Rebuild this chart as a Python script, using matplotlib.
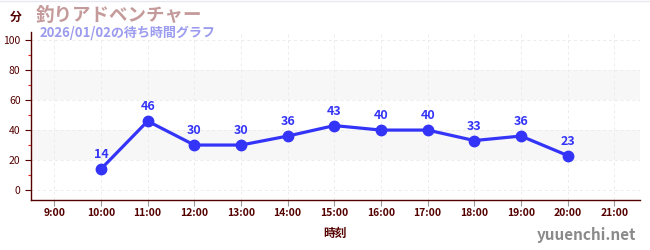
import matplotlib
matplotlib.use("Agg")
import matplotlib.pyplot as plt

plt.rcParams['font.family'] = ['Noto Sans CJK JP', 'DejaVu Sans']

hours = [10, 11, 12, 13, 14, 15, 16, 17, 18, 19, 20]
waits = [14, 46, 30, 30, 36, 43, 40, 40, 33, 36, 23]
xtick_hours = list(range(9, 22))
xtick_labels = [f"{h}:00" for h in xtick_hours]
ytick_vals = [0, 20, 40, 60, 80, 100]
title = "釣りアドベンチャー"
subtitle = "2026/01/02の待ち時間グラフ"
ylabel = "分"
xlabel = "時刻"
watermark = "yuuenchi.net"

axis_color = "#550000"
line_color = "#3434f8"

fig = plt.figure(figsize=(6.5, 2.5), dpi=100)
ax = fig.add_axes([31/650, 1-200/250, (640-31)/650, (200-32)/250])
ax.set_xlim(8.5, 21.55)
ax.set_ylim(-6.7, 105.5)

for lo, hi in [(20, 40), (60, 80)]:
    ax.axhspan(lo, hi, color="#f7f7f7", zorder=0, lw=0)

for h in xtick_hours:
    ax.axvline(h, color="#ececec", ls=(0, (3, 3)), lw=0.7, zorder=1)
for v in ytick_vals:
    ax.axhline(v, color="#ececec", ls=(0, (3, 3)), lw=0.7, zorder=1)

ax.plot(hours, waits, color=line_color, lw=2.3, marker="o", ms=7.5, zorder=3)
for h, w in zip(hours, waits):
    ax.annotate(str(w), (h, w), xytext=(0, 5.5), textcoords="offset points",
                ha="center", va="bottom", color=line_color, fontsize=9,
                fontweight="bold")

ax.set_xticks(xtick_hours)
ax.set_xticklabels(xtick_labels, fontsize=7.5, color=axis_color, fontweight="bold")
ax.set_yticks(ytick_vals)
ax.set_yticklabels([str(v) for v in ytick_vals], fontsize=7.5, color=axis_color)
ax.set_yticks([10, 30, 50, 70, 90], minor=True)
ax.tick_params(axis="y", which="major", length=4, color=axis_color, width=0.8)
ax.tick_params(axis="y", which="minor", length=2.5, color="#dd2222", width=0.8)
ax.tick_params(axis="x", which="major", length=4, color="#999999", width=0.8, pad=2)

for s in ["top", "right"]:
    ax.spines[s].set_visible(False)
for s in ["left", "bottom"]:
    ax.spines[s].set_color(axis_color)
    ax.spines[s].set_linewidth(1.0)

ax.set_xlabel(xlabel, fontsize=8.5, color=axis_color, fontweight="bold", labelpad=6)

fig.text(10/650, 1-17/250, ylabel, fontsize=8.5, color=axis_color, fontweight="bold",
         va="center", ha="left")
fig.text(36/650, 1-15/250, title, fontsize=13.3, color="#c49a9a", fontweight="bold",
         va="center", ha="left")
fig.text(40/650, 1-33/250, subtitle, fontsize=9.4, color="#9b9bef", fontweight="bold",
         va="center", ha="left")
fig.text(636/650, 1-235/250, watermark, fontsize=11, color="#8a8a8a",
         va="center", ha="right", fontweight="bold")

fig.add_artist(plt.Line2D([0, 1], [0.998, 0.998], color="#e8e8f0", lw=1))

fig.savefig("out.png", dpi=100)
